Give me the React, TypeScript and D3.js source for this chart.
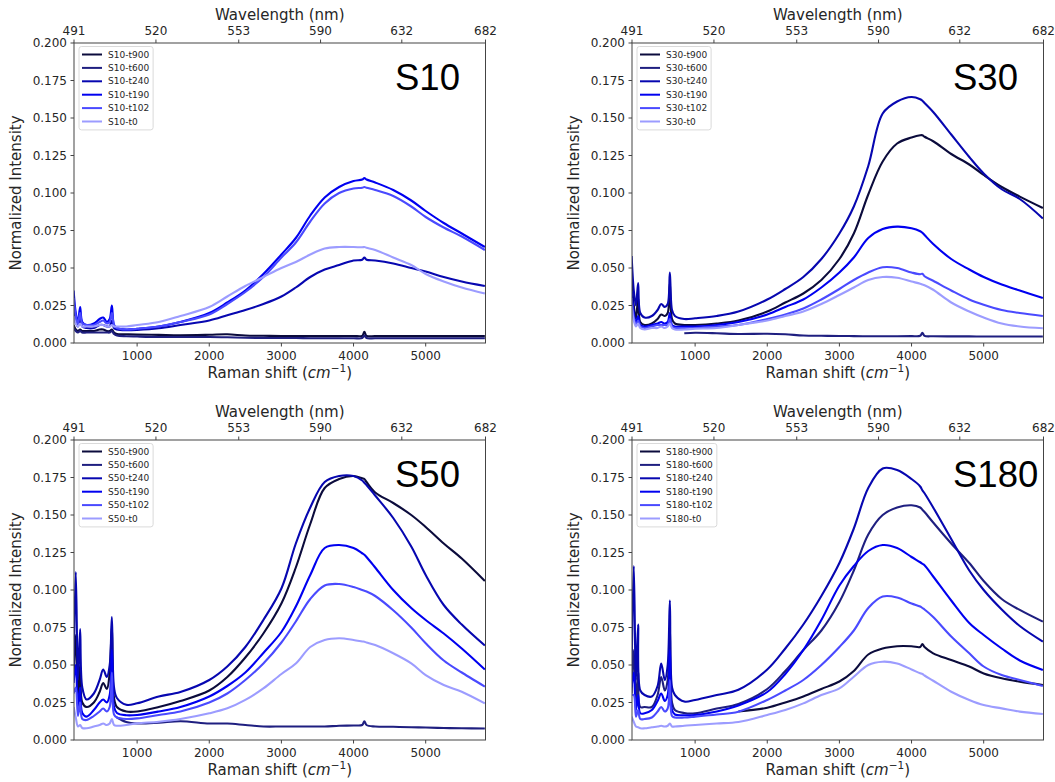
import React from "react";
import * as d3 from "d3";

// ---------------- data ----------------
const SHIFT = [120, 150, 180, 210, 240, 300, 400, 480, 530, 580, 620, 650, 680, 720, 850, 1000, 1300, 1600, 2000, 2250, 2500, 2750, 3000, 3200, 3400, 3600, 3800, 4000, 4120, 4150, 4180, 4300, 4550, 4800, 5000, 5250, 5500, 5820];
const TIMES = ["t900", "t600", "t240", "t190", "t102", "t0"];
const COLORS = ["#0b0b3c", "#1f1f80", "#0707b0", "#0000f0", "#4a4aff", "#9c9cff"];
const LASER_NM = 488;
const WAVELENGTH_TICKS = [491, 520, 553, 590, 632, 682];
const SHIFT_TICKS = [1000, 2000, 3000, 4000, 5000];
const INTENSITY_TICKS = [0, 0.025, 0.05, 0.075, 0.1, 0.125, 0.15, 0.175, 0.2];
const N = null;

const S10_T900 = [0.012, 0.009, 0.008, 0.009, 0.008, 0.008, 0.008, 0.009, 0.009, 0.008, 0.008, 0.009, 0.007, 0.006, 0.0058, 0.0056, 0.0054, 0.0052, 0.0055, 0.0058, 0.005, 0.0048, 0.0047, 0.0047, 0.0046, 0.0046, 0.0046, 0.0047, 0.0048, 0.0075, 0.0048, 0.0046, 0.0046, 0.0046, 0.0046, 0.0046, 0.0046, 0.0046];
const S10_T600 = [0.01, 0.008, 0.007, 0.008, 0.007, 0.007, 0.007, 0.007, 0.007, 0.007, 0.007, 0.008, 0.006, 0.005, 0.0045, 0.0043, 0.004, 0.004, 0.004, 0.0038, 0.0035, 0.0034, 0.0033, 0.0033, 0.0032, 0.0032, 0.0032, 0.0032, 0.0033, 0.005, 0.0033, 0.0032, 0.0032, 0.0032, 0.0032, 0.0032, 0.0032, 0.0032];
const S10_T240 = [0.025, 0.014, 0.011, 0.016, 0.011, 0.01, 0.01, 0.012, 0.012, 0.011, 0.011, 0.015, 0.01, 0.009, 0.0085, 0.0087, 0.0098, 0.012, 0.015, 0.0185, 0.022, 0.026, 0.031, 0.037, 0.044, 0.049, 0.052, 0.055, 0.0555, 0.057, 0.0555, 0.055, 0.053, 0.05, 0.0476, 0.044, 0.041, 0.038];
const S10_T190 = [0.035, 0.02, 0.014, 0.024, 0.014, 0.012, 0.013, 0.016, 0.017, 0.014, 0.016, 0.025, 0.012, 0.01, 0.009, 0.0095, 0.011, 0.014, 0.02, 0.027, 0.035, 0.046, 0.059, 0.07, 0.085, 0.097, 0.104, 0.108, 0.109, 0.11, 0.109, 0.107, 0.102, 0.095, 0.088, 0.08, 0.073, 0.064];
const S10_T102 = [0.03, 0.018, 0.013, 0.02, 0.013, 0.012, 0.012, 0.014, 0.015, 0.013, 0.014, 0.02, 0.012, 0.01, 0.009, 0.0095, 0.011, 0.014, 0.019, 0.026, 0.034, 0.044, 0.057, 0.067, 0.081, 0.093, 0.1, 0.103, 0.1035, 0.104, 0.1035, 0.102, 0.098, 0.091, 0.084, 0.077, 0.071, 0.062];
const S10_T0 = [0.018, 0.013, 0.011, 0.013, 0.011, 0.011, 0.011, 0.012, 0.012, 0.011, 0.011, 0.012, 0.011, 0.011, 0.011, 0.012, 0.014, 0.018, 0.024, 0.031, 0.038, 0.044, 0.05, 0.054, 0.059, 0.063, 0.064, 0.064, 0.0638, 0.064, 0.0635, 0.062, 0.057, 0.052, 0.046, 0.041, 0.037, 0.033];

const S30_T900 = [0.042, 0.025, 0.016, 0.03, 0.014, 0.012, 0.013, 0.016, 0.019, 0.018, 0.02, 0.04, 0.016, 0.013, 0.012, 0.012, 0.013, 0.015, 0.021, 0.027, 0.033, 0.042, 0.056, 0.073, 0.099, 0.121, 0.133, 0.137, 0.1385, 0.1385, 0.1375, 0.1345, 0.126, 0.119, 0.112, 0.104, 0.0976, 0.09];
const S30_T600 = [N, N, N, N, N, N, N, N, N, N, N, N, N, N, 0.0065, 0.0068, 0.0065, 0.006, 0.0062, 0.0058, 0.005, 0.0048, 0.0047, 0.0046, 0.0045, 0.0045, 0.0045, 0.0046, 0.0048, 0.0068, 0.0048, 0.0045, 0.0044, 0.0044, 0.0043, 0.0043, 0.0043, 0.0043];
const S30_T240 = [0.058, 0.035, 0.025, 0.04, 0.02, 0.017, 0.018, 0.022, 0.026, 0.024, 0.026, 0.047, 0.022, 0.018, 0.016, 0.0165, 0.018, 0.021, 0.029, 0.036, 0.044, 0.056, 0.073, 0.091, 0.118, 0.153, 0.161, 0.164, 0.1625, 0.1615, 0.16, 0.154, 0.139, 0.124, 0.113, 0.1025, 0.096, 0.083];
const S30_T190 = [0.035, 0.02, 0.013, 0.018, 0.012, 0.011, 0.012, 0.013, 0.014, 0.013, 0.014, 0.02, 0.012, 0.011, 0.011, 0.011, 0.012, 0.014, 0.019, 0.024, 0.029, 0.037, 0.047, 0.057, 0.07, 0.076, 0.0776, 0.0765, 0.0745, 0.0735, 0.072, 0.066, 0.056, 0.049, 0.044, 0.039, 0.035, 0.03];
const S30_T102 = [0.03, 0.017, 0.012, 0.015, 0.011, 0.01, 0.011, 0.012, 0.012, 0.012, 0.012, 0.016, 0.011, 0.01, 0.01, 0.01, 0.011, 0.012, 0.016, 0.019, 0.023, 0.029, 0.036, 0.042, 0.047, 0.0505, 0.05, 0.047, 0.0458, 0.0462, 0.0445, 0.0415, 0.035, 0.029, 0.0255, 0.022, 0.02, 0.018];
const S30_T0 = [0.025, 0.015, 0.011, 0.013, 0.01, 0.009, 0.01, 0.01, 0.011, 0.01, 0.011, 0.013, 0.01, 0.009, 0.009, 0.0095, 0.01, 0.012, 0.015, 0.018, 0.021, 0.026, 0.032, 0.037, 0.042, 0.044, 0.0435, 0.041, 0.0395, 0.039, 0.0385, 0.0355, 0.027, 0.021, 0.017, 0.013, 0.011, 0.0098];

const S50_T900 = [0.042, 0.07, 0.03, 0.05, 0.025, 0.022, 0.025, 0.032, 0.038, 0.034, 0.045, 0.076, 0.028, 0.022, 0.019, 0.019, 0.022, 0.026, 0.033, 0.042, 0.055, 0.071, 0.091, 0.115, 0.144, 0.168, 0.174, 0.176, 0.1745, 0.174, 0.172, 0.165, 0.158, 0.15, 0.142, 0.131, 0.121, 0.106];
const S50_T600 = [N, N, N, N, N, N, N, N, N, N, N, N, N, 0.015, 0.012, 0.011, 0.0115, 0.0125, 0.011, 0.011, 0.01, 0.009, 0.009, 0.009, 0.009, 0.009, 0.0095, 0.0097, 0.01, 0.0125, 0.01, 0.009, 0.0088, 0.0085, 0.0083, 0.008, 0.0078, 0.0077];
const S50_T240 = [0.05, 0.112, 0.04, 0.074, 0.035, 0.027, 0.031, 0.04, 0.047, 0.042, 0.05, 0.082, 0.035, 0.028, 0.0235, 0.0245, 0.029, 0.032, 0.04, 0.049, 0.062, 0.08, 0.101, 0.131, 0.155, 0.172, 0.176, 0.176, 0.173, 0.1715, 0.17, 0.163, 0.148, 0.129, 0.11, 0.09, 0.077, 0.063];
const S50_T190 = [0.038, 0.05, 0.022, 0.035, 0.018, 0.0156, 0.02, 0.025, 0.027, 0.025, 0.03, 0.06, 0.022, 0.018, 0.0165, 0.0167, 0.019, 0.022, 0.029, 0.036, 0.045, 0.058, 0.072, 0.089, 0.11, 0.128, 0.13, 0.128, 0.1245, 0.1235, 0.122, 0.115, 0.1, 0.088, 0.08, 0.071, 0.061, 0.047];
const S50_T102 = [0.031, 0.035, 0.016, 0.025, 0.014, 0.0133, 0.016, 0.019, 0.021, 0.019, 0.022, 0.045, 0.017, 0.015, 0.014, 0.0144, 0.0167, 0.019, 0.025, 0.031, 0.04, 0.051, 0.065, 0.079, 0.094, 0.103, 0.104, 0.102, 0.1, 0.0995, 0.099, 0.096, 0.0865, 0.075, 0.0645, 0.053, 0.045, 0.0356];
const S50_T0 = [0.022, 0.015, 0.009, 0.01, 0.008, 0.0078, 0.009, 0.01, 0.011, 0.01, 0.011, 0.014, 0.01, 0.0095, 0.01, 0.0111, 0.0122, 0.014, 0.0178, 0.0211, 0.0267, 0.0344, 0.044, 0.051, 0.062, 0.0667, 0.0678, 0.0667, 0.0657, 0.0655, 0.065, 0.0633, 0.0578, 0.0511, 0.0433, 0.0367, 0.0322, 0.0244];

const S180_T900 = [N, N, N, N, N, N, N, N, N, N, N, N, N, N, N, N, N, 0.019, 0.0215, 0.025, 0.029, 0.034, 0.039, 0.046, 0.057, 0.061, 0.0625, 0.0625, 0.062, 0.064, 0.062, 0.0578, 0.0533, 0.049, 0.0444, 0.0411, 0.0389, 0.0367];
const S180_T600 = [0.031, 0.06, 0.026, 0.045, 0.022, 0.022, 0.022, 0.03, 0.042, 0.033, 0.04, 0.0756, 0.025, 0.02, 0.018, 0.0178, 0.021, 0.024, 0.034, 0.046, 0.06, 0.073, 0.092, 0.113, 0.137, 0.15, 0.155, 0.1565, 0.155, 0.1535, 0.152, 0.145, 0.131, 0.118, 0.106, 0.094, 0.0867, 0.0789];
const S180_T240 = [0.047, 0.116, 0.04, 0.077, 0.033, 0.03, 0.029, 0.036, 0.051, 0.04, 0.05, 0.093, 0.035, 0.03, 0.0256, 0.0267, 0.03, 0.0335, 0.047, 0.061, 0.077, 0.096, 0.118, 0.141, 0.168, 0.181, 0.18, 0.174, 0.169, 0.1665, 0.1645, 0.155, 0.134, 0.113, 0.1, 0.087, 0.076, 0.0656];
const S180_T190 = [0.035, 0.045, 0.02, 0.03, 0.0178, 0.0178, 0.02, 0.026, 0.031, 0.026, 0.03, 0.06, 0.02, 0.017, 0.0165, 0.0167, 0.019, 0.023, 0.032, 0.044, 0.06, 0.08, 0.103, 0.116, 0.126, 0.13, 0.128, 0.122, 0.1185, 0.1175, 0.1165, 0.109, 0.093, 0.078, 0.07, 0.061, 0.053, 0.0467];
const S180_T102 = [0.03, 0.03, 0.0156, 0.02, 0.014, 0.014, 0.015, 0.019, 0.022, 0.019, 0.021, 0.04, 0.016, 0.015, 0.015, 0.0156, 0.017, 0.0189, 0.0267, 0.033, 0.04, 0.05, 0.062, 0.073, 0.088, 0.0956, 0.095, 0.091, 0.089, 0.088, 0.087, 0.082, 0.069, 0.0578, 0.049, 0.0433, 0.04, 0.036];
const S180_T0 = [0.0156, 0.012, 0.009, 0.0085, 0.0078, 0.0078, 0.0085, 0.009, 0.0095, 0.009, 0.0095, 0.011, 0.009, 0.009, 0.0095, 0.01, 0.011, 0.012, 0.0167, 0.02, 0.0244, 0.03, 0.0344, 0.0422, 0.05, 0.0522, 0.051, 0.047, 0.0445, 0.044, 0.043, 0.0395, 0.0322, 0.0267, 0.0233, 0.0211, 0.0189, 0.0173];

const SAMPLES = ["S10", "S30", "S50", "S180"];
const SERIES = [
  [S10_T900, S10_T600, S10_T240, S10_T190, S10_T102, S10_T0],
  [S30_T900, S30_T600, S30_T240, S30_T190, S30_T102, S30_T0],
  [S50_T900, S50_T600, S50_T240, S50_T190, S50_T102, S50_T0],
  [S180_T900, S180_T600, S180_T240, S180_T190, S180_T102, S180_T0],
];

// ---------------- layout ----------------
const W = 411.5;
const H = 300;
const ORIGINS = [
  [74, 43],
  [632, 43],
  [74, 440],
  [632, 440],
];
const FONT = "'DejaVu Sans', sans-serif";
const TEXT = "#262626";
const SPINE = "#444";

const toShift = (nm: number) => 1e7 / LASER_NM - 1e7 / nm;
const X_DOMAIN = [toShift(WAVELENGTH_TICKS[0]), toShift(WAVELENGTH_TICKS[WAVELENGTH_TICKS.length - 1])];

let measureCtx: CanvasRenderingContext2D | null = null;
function textWidth(s: string, font: string) {
  if (!measureCtx) measureCtx = document.createElement("canvas").getContext("2d");
  if (!measureCtx) return s.length * 5.2;
  measureCtx.font = font;
  return measureCtx.measureText(s).width;
}

function Panel({ idx }: { idx: number }) {
  const [x0, y0] = ORIGINS[idx];
  const name = SAMPLES[idx];
  const x = d3.scaleLinear().domain(X_DOMAIN).range([x0, x0 + W]);
  const y = d3.scaleLinear().domain([0, 0.2]).range([y0 + H, y0]);
  const line = d3
    .line<[number, number | null]>()
    .defined((d) => d[1] != null)
    .x((d) => x(d[0]))
    .y((d) => y(d[1] as number))
    .curve(d3.curveCatmullRom.alpha(0.5));
  const clipId = `clip-${idx}`;
  const labels = TIMES.map((t) => `${name}-${t}`);
  const legFont = `9px ${FONT}`;
  const maxW = Math.max(...labels.map((l) => textWidth(l, legFont)));
  const legX = x0 + 5;
  const legY = y0 + 3.5;
  const legW = 29 + maxW + 4;
  const legH = 13.4 * 6 + 3;
  const fmt = d3.format(".3f");
  const tickLen = 3.5;
  const cx = x0 + W / 2;
  return (
    <g>
      <defs>
        <clipPath id={clipId}>
          <rect x={x0} y={y0} width={W} height={H} />
        </clipPath>
      </defs>
      <g clipPath={`url(#${clipId})`}>
        {SERIES[idx].map((vals, i) => (
          <path
            key={i}
            d={line(SHIFT.map((s, j) => [s, vals[j]] as [number, number | null])) || ""}
            fill="none"
            stroke={COLORS[i]}
            strokeWidth={2.1}
            strokeLinejoin="round"
          />
        ))}
      </g>
      {/* frame */}
      <rect x={x0} y={y0} width={W} height={H} fill="none" stroke={SPINE} strokeWidth={1} />
      {/* left ticks */}
      {INTENSITY_TICKS.map((v) => (
        <g key={v}>
          <line x1={x0 - tickLen} x2={x0} y1={y(v)} y2={y(v)} stroke={SPINE} />
          <text x={x0 - 7} y={y(v)} dy="0.36em" textAnchor="end" fontSize={12} fontFamily={FONT} fill={TEXT}>
            {fmt(v)}
          </text>
        </g>
      ))}
      {/* bottom ticks */}
      {SHIFT_TICKS.map((v) => (
        <g key={v}>
          <line x1={x(v)} x2={x(v)} y1={y0 + H} y2={y0 + H + tickLen} stroke={SPINE} />
          <text x={x(v)} y={y0 + H + 16.5} textAnchor="middle" fontSize={12} fontFamily={FONT} fill={TEXT}>
            {v}
          </text>
        </g>
      ))}
      {/* top ticks (wavelength) */}
      {WAVELENGTH_TICKS.map((nm) => (
        <g key={nm}>
          <line x1={x(toShift(nm))} x2={x(toShift(nm))} y1={y0} y2={y0 - tickLen} stroke={SPINE} />
          <text x={x(toShift(nm))} y={y0 - 8.5} textAnchor="middle" fontSize={12} fontFamily={FONT} fill={TEXT}>
            {nm}
          </text>
        </g>
      ))}
      {/* axis titles */}
      <text x={cx} y={y0 - 23} textAnchor="middle" fontSize={15} fontFamily={FONT} fill={TEXT}>
        Wavelength (nm)
      </text>
      <text x={cx} y={y0 + H + 35} textAnchor="middle" fontSize={15} fontFamily={FONT} fill={TEXT}>
        Raman shift (<tspan fontStyle="italic">cm</tspan>
        <tspan fontSize={10.5} dy={-6}>−1</tspan>
        <tspan dy={6}>)</tspan>
      </text>
      <text
        transform={`translate(${x0 - 53},${y0 + H / 2}) rotate(-90)`}
        textAnchor="middle"
        fontSize={15}
        fontFamily={FONT}
        fill={TEXT}
      >
        Normalized Intensity
      </text>
      {/* sample label */}
      <text x={x0 + 321} y={y0 + 47} fontSize={36.5} fontFamily="'Liberation Sans', Arial, sans-serif" fill="#000">
        {name}
      </text>
      {/* legend */}
      <rect x={legX} y={legY} width={legW} height={legH} rx={2.5} fill="#fff" fillOpacity={0.8} stroke="#d0d0d0" strokeWidth={0.8} />
      {labels.map((l, i) => {
        const ly = legY + 8 + i * 13.4;
        return (
          <g key={l}>
            <line x1={legX + 3} x2={legX + 23} y1={ly} y2={ly} stroke={COLORS[i]} strokeWidth={2} />
            <text x={legX + 29} y={ly} dy="0.35em" fontSize={9} fontFamily={FONT} fill={TEXT}>
              {l}
            </text>
          </g>
        );
      })}
    </g>
  );
}

export default function App() {
  return (
    <div style={{ position: "absolute", left: 0, top: 0 }}>
      <svg width={1055} height={782} style={{ display: "block", background: "#fff" }}>
        {SAMPLES.map((_, i) => (
          <Panel key={i} idx={i} />
        ))}
      </svg>
    </div>
  );
}
